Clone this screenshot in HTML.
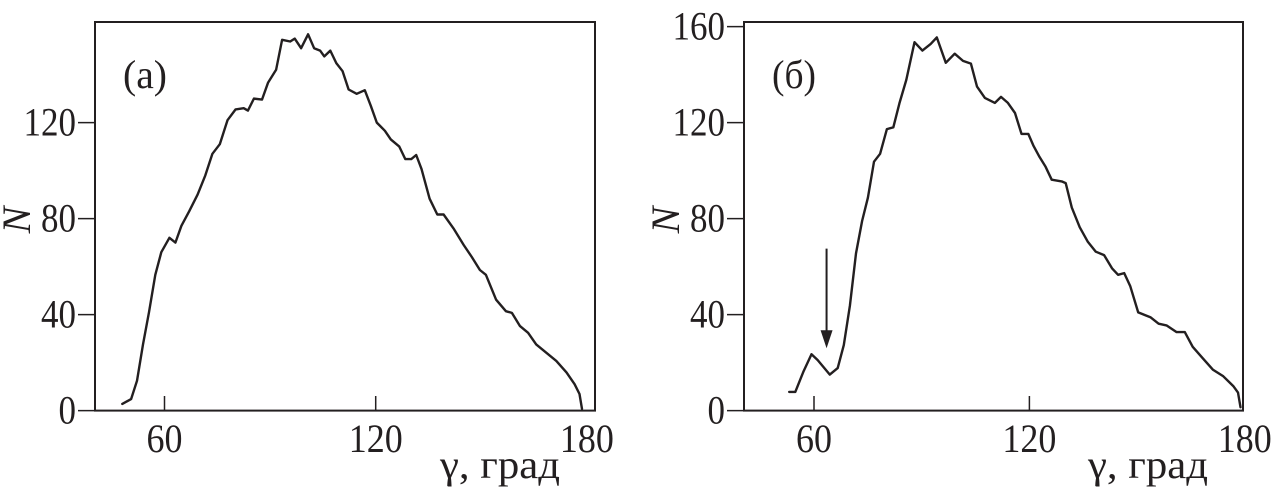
<!DOCTYPE html>
<html><head><meta charset="utf-8"><style>
html,body{margin:0;padding:0;background:#fff;}
svg{display:block;font-family:"Liberation Serif",serif;}
</style></head><body>
<svg id="c" width="1271" height="492" viewBox="0 0 1271 492"></svg>
<script>
const xTicks=[60,120,180];
const yTicksA=[0,40,80,120];
const yTicksB=[0,40,80,120,160];
const gammaA=[48,50.5,52.2,53.9,55.6,57.4,59.1,61.4,63.1,64.8,67,69.4,71.6,73.6,75.7,77.9,80.2,82.5,83.7,85.4,87.7,89.4,91.7,93.4,95.7,97,98.8,100.8,102.5,104.2,105.4,107.1,108.8,110.6,112.3,114.6,116.9,118.6,120.3,122.6,124.3,126.7,128.4,130.1,131.5,133,135.3,137.5,139.3,142.1,145,147.3,149.6,151.3,154.2,157,158.7,161,163.3,165.6,168.5,171.3,174.2,176.5,177.9,178.6];
const countA=[2.8,4.8,12.4,27.6,41,56.6,66,72,70,77,83,90,98,107,111,121,125.5,126,125,130,129.6,136.6,142,154.5,153.8,155,151,156.8,151,150,147.6,150,144.8,141.4,133.8,132,133.5,127,120,116.6,113,110,104.8,104.8,106.5,100.7,88.3,81.7,81.7,75.9,69,64,58.6,56.6,46.2,41.4,40.7,35.2,32.4,27.6,24.1,20.7,15.9,11,6.9,0.7];
const gammaB=[53.1,54.8,57.1,59.3,61,64.4,66.6,68.3,70,71.7,73.4,75,76.7,78.4,80.3,82.1,83.8,85.7,88,90.2,92.5,94.2,96.7,99.2,101.5,103.7,105.4,107.6,110.4,112.1,114,116,117.8,119.7,121.1,122.8,124.5,126.2,129,130.1,131.8,134,136.3,138.5,140.8,143,144.7,146.4,148.1,150.3,153.7,156,158.2,161,163.3,165.5,168.3,171.1,174,176.8,178.1,178.8];
const countB=[7.8,7.8,16.4,23.5,21.1,15,17.7,27.3,43.7,65.5,79,88.7,103.7,107,117.3,118,128,137.8,153.5,150,152.8,155.5,144.9,148.7,145.7,144.6,135,130.3,128.2,130.7,128.2,124,115.3,115.3,110.5,105.7,101.6,96.2,95.5,94.8,84.6,76.4,70.3,66.2,64.8,59.3,56.6,57.3,51.8,40.9,38.9,36.2,35.5,32.7,32.7,26.6,21.8,17.1,14.3,10.2,7.5,1.4];
const arrowB={gamma:63.5,from:67.5,to:26};

const NS="http://www.w3.org/2000/svg";
const svg=document.getElementById('c');
function mk(tag,attrs,parent){const e=document.createElementNS(NS,tag);for(const k in attrs)e.setAttribute(k,attrs[k]);(parent||svg).appendChild(e);return e;}

function panel(cfg){
  const g=mk('g',{});
  
  
  const X=v=>cfg.x0+(v-60)*cfg.sx;
  const Y=v=>410.6-v*2.4;
  const box=mk('rect',{x:cfg.left,y:22,width:cfg.right-cfg.left,height:388.6,fill:'none',stroke:'#231f20','stroke-width':2},g);
  
  
  xTicks.forEach(t=>{
    if(t<180){const l=mk('line',{x1:X(t),x2:X(t),y1:410.6,y2:396,stroke:'#231f20','stroke-width':1.5},g);
    
    }
    const s=String(t);
    const tx=mk('text',{x:X(t),y:452,'font-size':40,'text-anchor':'middle',fill:'#231f20',textLength:s.length*18,lengthAdjust:'spacingAndGlyphs'},g);
    tx.textContent=s;
    
    
  });
  cfg.yTicks.forEach(t=>{
    const l=mk('line',{x1:cfg.left-17,x2:cfg.left,y1:Y(t),y2:Y(t),stroke:'#231f20','stroke-width':1.5},g);
    
    
    const s=String(t);
    const tx=mk('text',{x:cfg.left-19,y:Y(t)+13,'font-size':40,'text-anchor':'end',fill:'#231f20',textLength:s.length*17.5,lengthAdjust:'spacingAndGlyphs'},g);
    tx.textContent=s;
    
    
  });
  const yt=mk('text',{x:0,y:0,'font-size':40,'font-style':'italic','text-anchor':'middle',fill:'#231f20',transform:`translate(${cfg.left-65},220) rotate(-90)`},g);
  yt.textContent='N';
  
  
  const xt=mk('text',{x:cfg.right-155,y:478,'font-size':40,fill:'#231f20',textLength:120,lengthAdjust:'spacingAndGlyphs'},g);
  xt.textContent='γ, град';
  
  
  const lab=mk('text',{x:cfg.left+28,y:88,'font-size':40,fill:'#231f20',textLength:44,lengthAdjust:'spacingAndGlyphs'},g);
  lab.textContent=cfg.label;
  
  
  const d=cfg.gx.map((v,i)=>(i?'L':'M')+X(v).toFixed(1)+' '+Y(cfg.ny[i]).toFixed(1)).join(' ');
  const p=mk('path',{d:d,fill:'none',stroke:'#231f20','stroke-width':2.4,'stroke-linejoin':'round','stroke-linecap':'round'},g);
  
  
  return {X,Y,g};
}
panel({name:'panel-a',left:95,right:595,x0:164.5,sx:3.52,yTicks:yTicksA,label:'(a)',gx:gammaA,ny:countA});
const pb=panel({name:'panel-b',left:744,right:1243,x0:814,sx:3.59,yTicks:yTicksB,label:'(б)',gx:gammaB,ny:countB});
const ax=pb.X(arrowB.gamma);
const al=mk('line',{x1:ax,x2:ax,y1:pb.Y(arrowB.from),y2:pb.Y(arrowB.to)-14,stroke:'#231f20','stroke-width':2},pb.g);


const ah=mk('polygon',{points:`${ax-6},${pb.Y(arrowB.to)-18} ${ax+6},${pb.Y(arrowB.to)-18} ${ax},${pb.Y(arrowB.to)}`,fill:'#231f20'},pb.g);


</script>
</body></html>
